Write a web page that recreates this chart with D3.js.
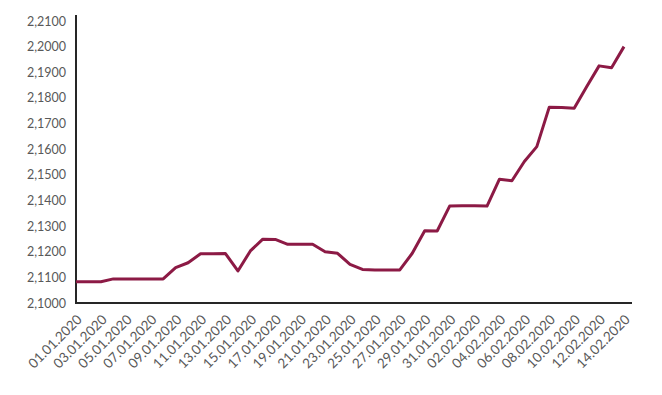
<!DOCTYPE html>
<html>
<head>
<meta charset="utf-8">
<script src="https://cdn.jsdelivr.net/npm/d3@7"></script>
<style>
  body { margin: 0; background: #fff; }
  text { font-family: Lato, "Open Sans", sans-serif; fill: #595959; }
</style>
</head>
<body>
<div id="chart"></div>
<script>
// data
var dates = ["01.01.2020","02.01.2020","03.01.2020","04.01.2020","05.01.2020","06.01.2020","07.01.2020","08.01.2020",
  "09.01.2020","10.01.2020","11.01.2020","12.01.2020","13.01.2020","14.01.2020","15.01.2020","16.01.2020",
  "17.01.2020","18.01.2020","19.01.2020","20.01.2020","21.01.2020","22.01.2020","23.01.2020","24.01.2020",
  "25.01.2020","26.01.2020","27.01.2020","28.01.2020","29.01.2020","30.01.2020","31.01.2020","01.02.2020",
  "02.02.2020","03.02.2020","04.02.2020","05.02.2020","06.02.2020","07.02.2020","08.02.2020","09.02.2020",
  "10.02.2020","11.02.2020","12.02.2020","13.02.2020","14.02.2020"];
var rates = [2.1083,2.1083,2.1083,2.1094,2.1094,2.1094,2.1094,2.1094,
  2.1138,2.1157,2.1192,2.1192,2.1193,2.1125,2.1203,2.1249,
  2.1248,2.1229,2.1229,2.1229,2.1200,2.1194,2.1151,2.1131,
  2.1129,2.1129,2.1129,2.1194,2.1282,2.1281,2.1378,2.1379,
  2.1379,2.1378,2.1483,2.1477,2.1552,2.1610,2.1764,2.1763,
  2.1760,2.1844,2.1925,2.1918,2.2000];
var xTickLabels = ["01.01.2020","03.01.2020","05.01.2020","07.01.2020","09.01.2020","11.01.2020","13.01.2020",
  "15.01.2020","17.01.2020","19.01.2020","21.01.2020","23.01.2020","25.01.2020","27.01.2020","29.01.2020",
  "31.01.2020","02.02.2020","04.02.2020","06.02.2020","08.02.2020","10.02.2020","12.02.2020","14.02.2020"];
var yTicks = [2.10,2.11,2.12,2.13,2.14,2.15,2.16,2.17,2.18,2.19,2.20,2.21];

var margin = {top: 21, right: 38, bottom: 92, left: 76},
    width = 662 - margin.left - margin.right,
    height = 395 - margin.top - margin.bottom;

document.addEventListener('DOMContentLoaded', function () {
  var data = dates.map(function (d, i) { return {date: d, rate: rates[i]}; });

  var svg = d3.select("#chart").append("svg")
    .attr("width", 662)
    .attr("height", 395)
    .append("g")
    .attr("transform", "translate(" + margin.left + "," + margin.top + ")");

  var x = d3.scalePoint().domain(dates).range([0, 548]);
  var y = d3.scaleLinear().domain([2.10, 2.21]).range([height, 0]);

  var fmt = function (v) { return d3.format(".4f")(v).replace(".", ","); };

  // y axis labels
  var yAxis = svg.append("g")
    .call(d3.axisLeft(y).tickValues(yTicks).tickFormat(fmt).tickSize(0).tickPadding(10));
  yAxis.select(".domain").remove();
  yAxis.selectAll("text")
    .style("font-family", "Lato, sans-serif")
    .style("font-size", "12.5px")
    .attr("fill", "#595959");

  // x axis labels
  var xAxis = svg.append("g")
    .attr("transform", "translate(0," + height + ")")
    .call(d3.axisBottom(x).tickValues(xTickLabels).tickSize(0));
  xAxis.select(".domain").remove();
  xAxis.selectAll("text")
    .style("font-family", "Lato, sans-serif")
    .style("font-size", "13.5px")
    .attr("fill", "#595959")
    .attr("text-anchor", "end")
    .attr("dy", "0.35em")
    .attr("transform", "translate(3,14) rotate(-45)")
    .attr("y", 0);

  // axis lines
  svg.append("line")
    .attr("x1", 0).attr("x2", 0)
    .attr("y1", -6).attr("y2", height + 1)
    .attr("stroke", "#262626").attr("stroke-width", 2);
  svg.append("line")
    .attr("x1", -1).attr("x2", 556)
    .attr("y1", height).attr("y2", height)
    .attr("stroke", "#262626").attr("stroke-width", 2);

  var line = d3.line()
    .x(function (d) { return x(d.date); })
    .y(function (d) { return y(d.rate); });

  svg.append("path")
    .datum(data)
    .attr("d", line)
    .attr("fill", "none")
    .attr("stroke", "#8c1a45")
    .attr("stroke-width", 3)
    .attr("stroke-linejoin", "round");
});
</script>
</body>
</html>
